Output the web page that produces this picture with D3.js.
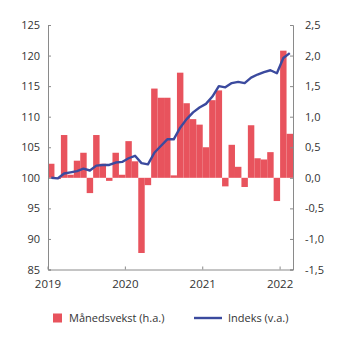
<!DOCTYPE html>
<html>
<head>
<meta charset="utf-8">
<script src="https://cdn.jsdelivr.net/npm/d3@7"></script>
<style>
  body { margin: 0; background: #fff; }
  svg text { font-family: "Open Sans", sans-serif; fill: #333; }
</style>
</head>
<body>
<div id="chart"></div>
<script>
// chart data
var months = [
    "2019-01", "2019-02", "2019-03", "2019-04", "2019-05", "2019-06",
    "2019-07", "2019-08", "2019-09", "2019-10", "2019-11", "2019-12",
    "2020-01", "2020-02", "2020-03", "2020-04", "2020-05", "2020-06",
    "2020-07", "2020-08", "2020-09", "2020-10", "2020-11", "2020-12",
    "2021-01", "2021-02", "2021-03", "2021-04", "2021-05", "2021-06",
    "2021-07", "2021-08", "2021-09", "2021-10", "2021-11", "2021-12",
    "2022-01", "2022-02"
];

// Månedsvekst (h.a.), percent
var growth = [
    0.23, -0.02, 0.70, 0.05, 0.28, 0.41, -0.25, 0.70, 0.23, -0.05, 0.41, 0.05,
    0.60, 0.27, -1.23, -0.12, 1.46, 1.31, 1.31, 0.04, 1.72, 1.22, 0.96, 0.87,
    0.50, 1.27, 1.43, -0.14, 0.54, 0.18, -0.15, 0.86, 0.32, 0.30, 0.42, -0.38,
    2.08, 0.72
];

// Indeks (v.a.)
var index = [
    100.0, 99.9, 100.7, 100.9, 101.1, 101.5, 101.2, 102.0, 102.1, 102.1, 102.5, 102.6,
    103.2, 103.6, 102.4, 102.2, 104.1, 105.2, 106.3, 106.3, 108.2, 109.6, 110.7, 111.5,
    112.1, 113.3, 115.0, 114.8, 115.5, 115.7, 115.5, 116.4, 116.9, 117.3, 117.6, 117.1,
    119.6, 120.4
];

var leftTicks = [85, 90, 95, 100, 105, 110, 115, 120, 125];
var rightTicks = [-1.5, -1.0, -0.5, 0.0, 0.5, 1.0, 1.5, 2.0, 2.5];
var yearTicks = ["2019-01", "2020-01", "2021-01", "2022-01"];

var svgWidth = 345;
var svgHeight = 341;

var margin = { top: 25, right: 52, bottom: 71.5, left: 48 };
var width = svgWidth - margin.left - margin.right;
var height = svgHeight - margin.top - margin.bottom;

var barColor = "#e8535d";
var lineColor = "#3b4a9e";
var axisColor = "#8a8a8a";

var svg = d3.select("#chart")
    .append("svg")
    .attr("width", svgWidth)
    .attr("height", svgHeight);

var chartGroup = svg.append("g")
    .attr("transform", `translate(${margin.left}, ${margin.top})`);

var xScale = d3.scaleBand()
    .domain(months)
    .range([0, width])
    .padding(0);

var yLeft = d3.scaleLinear()
    .domain([85, 125])
    .range([height, 0]);

var yRight = d3.scaleLinear()
    .domain([-1.5, 2.5])
    .range([height, 0]);

function comma(v) {
    return v.toFixed(1).replace(".", ",");
}

// bars
chartGroup.selectAll("rect.bar")
    .data(growth)
    .enter()
    .append("rect")
    .attr("class", "bar")
    .attr("x", (d, i) => xScale(months[i]))
    .attr("width", xScale.bandwidth())
    .attr("y", d => yRight(Math.max(0, d)))
    .attr("height", d => Math.abs(yRight(d) - yRight(0)))
    .attr("fill", barColor);

// index line
var line = d3.line()
    .x((d, i) => xScale(months[i]) + xScale.bandwidth() / 2)
    .y(d => yLeft(d));

chartGroup.append("path")
    .datum(index)
    .attr("d", line)
    .attr("fill", "none")
    .attr("stroke", lineColor)
    .attr("stroke-width", 2.4)
    .attr("stroke-linejoin", "round");

// axes
var leftAxis = d3.axisLeft(yLeft)
    .tickValues(leftTicks)
    .tickSize(-3)
    .tickPadding(8)
    .tickFormat(d => d);

var rightAxis = d3.axisRight(yRight)
    .tickValues(rightTicks)
    .tickSize(-3)
    .tickPadding(12)
    .tickFormat(comma);

var bottomAxis = d3.axisBottom(xScale)
    .tickValues(yearTicks)
    .tickSize(-3)
    .tickPadding(10)
    .tickFormat(d => d.slice(0, 4));

var gl = chartGroup.append("g").call(leftAxis);
var gr = chartGroup.append("g")
    .attr("transform", `translate(${width}, 0)`)
    .call(rightAxis);
var gb = chartGroup.append("g")
    .attr("transform", `translate(0, ${height})`)
    .call(bottomAxis);

// year ticks sit at the start of january, not the middle of the band
gb.selectAll(".tick")
    .attr("transform", d => `translate(${xScale(d)}, 0)`);

[gl, gr, gb].forEach(function (g) {
    g.selectAll("path.domain").attr("stroke", axisColor).attr("stroke-width", 1);
    g.selectAll(".tick line").attr("stroke", axisColor);
    g.selectAll("text")
        .attr("font-size", "11px")
        .attr("fill", "#333")
        .style("font-family", "'Open Sans', sans-serif");
});
gb.selectAll("text").attr("font-size", "11.5px");

// legend
var legend = svg.append("g")
    .attr("transform", "translate(0, 318)");

legend.append("rect")
    .attr("x", 53)
    .attr("y", -4.5)
    .attr("width", 9)
    .attr("height", 9)
    .attr("fill", barColor);

legend.append("text")
    .attr("x", 69)
    .attr("y", 0)
    .attr("dy", "0.35em")
    .attr("font-size", "11px")
    .text("Månedsvekst (h.a.)");

legend.append("line")
    .attr("x1", 194)
    .attr("x2", 222)
    .attr("y1", 0)
    .attr("y2", 0)
    .attr("stroke", lineColor)
    .attr("stroke-width", 2.4);

legend.append("text")
    .attr("x", 228)
    .attr("y", 0)
    .attr("dy", "0.35em")
    .attr("font-size", "11px")
    .text("Indeks (v.a.)");
</script>
</body>
</html>
